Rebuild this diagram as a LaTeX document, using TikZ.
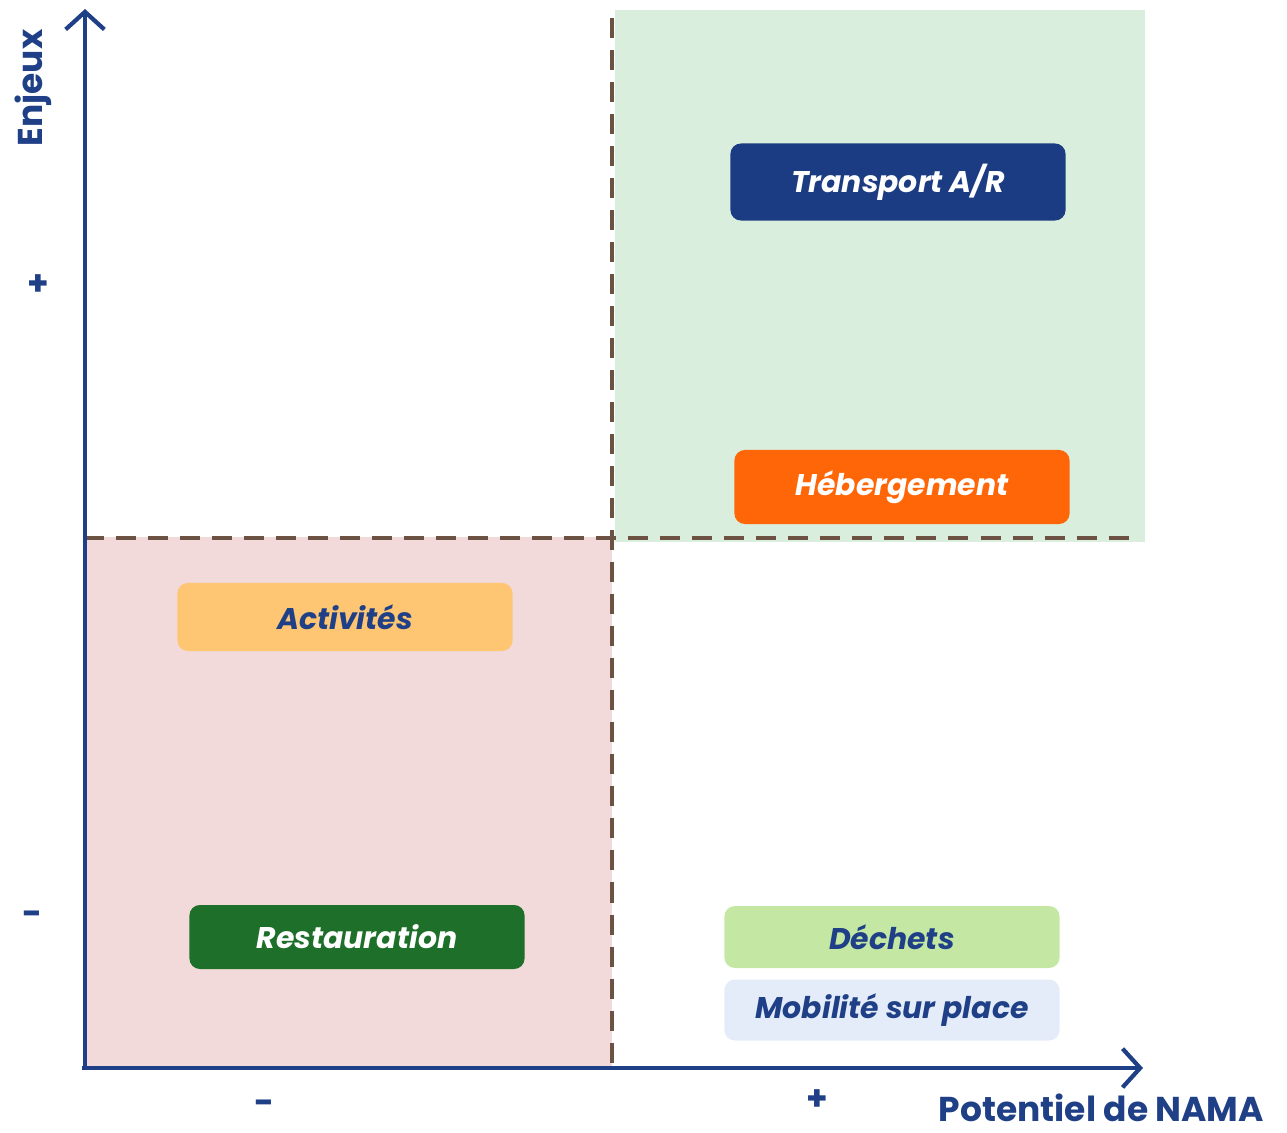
\documentclass[tikz,border=0pt]{standalone}
\usepackage{fontspec}
\setmainfont{Poppins}
\usepackage{xcolor}
\usetikzlibrary{arrows.meta}
\definecolor{axisblue}{HTML}{1F3F86}
\definecolor{navybox}{HTML}{1B3C82}
\definecolor{orangebox}{HTML}{FF6608}
\definecolor{sandbox}{HTML}{FEC672}
\definecolor{forestbox}{HTML}{1D6F29}
\definecolor{limebox}{HTML}{C4E8A4}
\definecolor{palebox}{HTML}{E4ECFA}
\definecolor{greenzone}{HTML}{D9EEDD}
\definecolor{pinkzone}{HTML}{F3DADA}
\definecolor{dashbrown}{HTML}{6B5243}

\begin{document}
\begin{tikzpicture}[x=0.01cm, y=-0.01cm, line width=1.2pt,
  >={Straight Barb[length=5pt,width=11pt]},
  catbox/.style={rectangle, rounded corners=3pt, minimum width=3.35cm, inner sep=0pt,
    font=\fontsize{8.5}{10}\selectfont\bfseries\itshape},
  axislabel/.style={text=axisblue, font=\fontsize{9.8}{12}\selectfont\bfseries},
  quadline/.style={dashbrown, line width=1.35pt, dash pattern=on 0.2cm off 0.12cm}]
  \useasboundingbox (0,0) rectangle (1287,1132);

  \fill[greenzone] (615,10) rectangle (1145,542);
  \fill[pinkzone] (84,537) rectangle (612,1068);

  \coordinate (vtop) at (612,18);
  \coordinate (vbot) at (612,1068);
  \coordinate (hleft) at (84,538);
  \coordinate (hright) at (1132,538);
  \draw[quadline] (vtop) -- (vbot);
  \draw[quadline] (hleft) -- (hright);

  \coordinate (origin) at (85,1068);
  \coordinate (ytip) at (85,9);
  \coordinate (xtip) at (1143,1068);
  \draw[axisblue, ->] (origin) -- (ytip);
  \draw[axisblue, ->] (82,1068) -- (xtip);

  \node[axislabel, rotate=90] (enjeux) at (33,88) {Enjeux};
  \node[axislabel] (yplus) at (38,285) {+};
  \node[axislabel] (yminus) at (32,918) {-};
  \node[axislabel] (xminus) at (264,1107) {-};
  \node[axislabel] (xplus) at (817,1100) {+};
  \node[axislabel, anchor=west] (potentiel) at (925,1108) {Potentiel de NAMA};

  \node[catbox, fill=navybox, text=white, minimum height=0.77cm] (transport) at (898,182) {Transport A/R};
  \node[catbox, fill=orangebox, text=white, minimum height=0.74cm] (hebergement) at (902,487) {Hébergement};
  \node[catbox, fill=sandbox, text=axisblue, minimum height=0.68cm] (activites) at (345,617) {Activités};
  \node[catbox, fill=forestbox, text=white, minimum height=0.64cm] (restauration) at (357,937) {Restauration};
  \node[catbox, fill=limebox, text=axisblue, minimum height=0.62cm] (dechets) at (892,937) {Déchets};
  \node[catbox, fill=palebox, text=axisblue, minimum height=0.61cm] (mobilite) at (892,1010) {Mobilité sur place};
\end{tikzpicture}
\end{document}
